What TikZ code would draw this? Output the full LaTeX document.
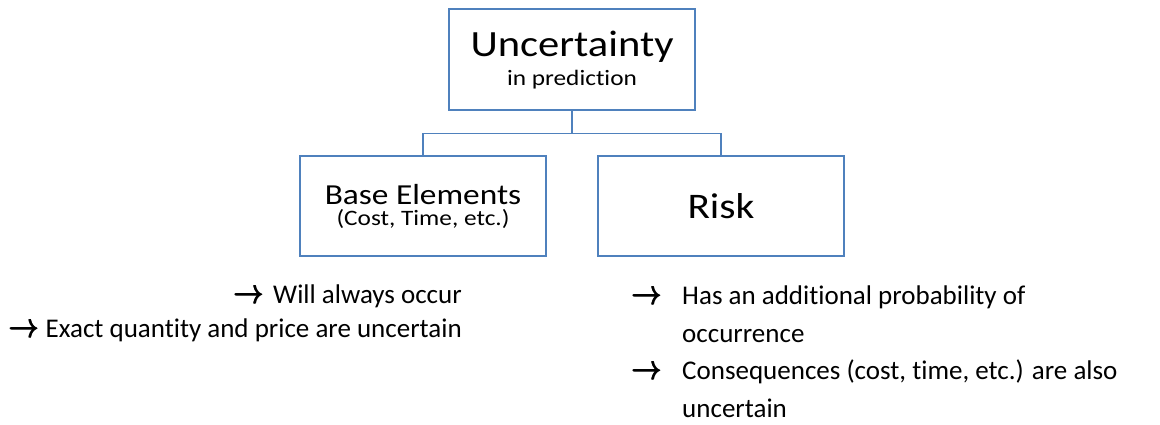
\documentclass[tikz,border=0pt]{standalone}
\usepackage{amsmath}
\usepackage{fontspec}
\setmainfont{Carlito}[Ligatures=NoCommon]
\newfontfamily\boxfont{Carlito}[FakeStretch=1.15,Ligatures=NoCommon]
\usepackage{tikz}
\usepackage{xcolor}
\definecolor{boxblue}{RGB}{79,129,189}
\newcommand{\arrowmark}{\scalebox{1.05}[1.4]{\pmb{\boldmath$\rightarrow$}}}

\begin{document}
\begin{tikzpicture}[x=1pt,y=1pt]
\useasboundingbox (0,0) rectangle (1160,425);
\begin{scope}[every node/.style={rectangle,draw=boxblue,line width=1.5pt,minimum width=246pt,inner sep=0pt,align=center,font=\boxfont}]
\node (0)[minimum height=101pt,text height=60pt,text depth=7pt,font=\boxfont\fontsize{22}{29}\selectfont] at (572,365.5) {{\fontsize{37}{40}\selectfont Uncertainty}\\in prediction}; 
\node (1)[minimum height=100pt,text height=46pt,text depth=6pt,font=\boxfont\fontsize{22}{21.5}\selectfont] at (423,219) {{\fontsize{29}{32}\selectfont Base Elements}\\(Cost, Time, etc.)}; 
\node (2)[minimum height=100pt,font=\boxfont\fontsize{36}{40}\selectfont] at (721,219) {Risk}; 

\draw[line width=1.5pt, boxblue] (0.south) -- ++(0,-23) -| (1.north); 
\draw[line width=1.5pt, boxblue] (0.south) -- ++(0,-23) -| (2.north); 
\end{scope}

\node (3)[anchor=base east,inner sep=0pt,font=\fontsize{27}{34}\selectfont] at (462,121) {\begin{tabular}[t]{@{}r@{}}
\arrowmark\hspace{9pt}Will always occur\\
\arrowmark\ Exact quantity and price are uncertain
\end{tabular}}; 
\node (4)[anchor=base west,inner sep=0pt,font=\fontsize{27}{37.5}\selectfont] at (632,120) {\begin{tabular}[t]{@{}l@{\hspace{20pt}}l@{}}
\arrowmark & Has an additional probability of\\
 & occurrence\\
\arrowmark & Consequences (cost, time, etc.) are also\\
 & uncertain
\end{tabular}}; 

\end{tikzpicture}
\end{document}
